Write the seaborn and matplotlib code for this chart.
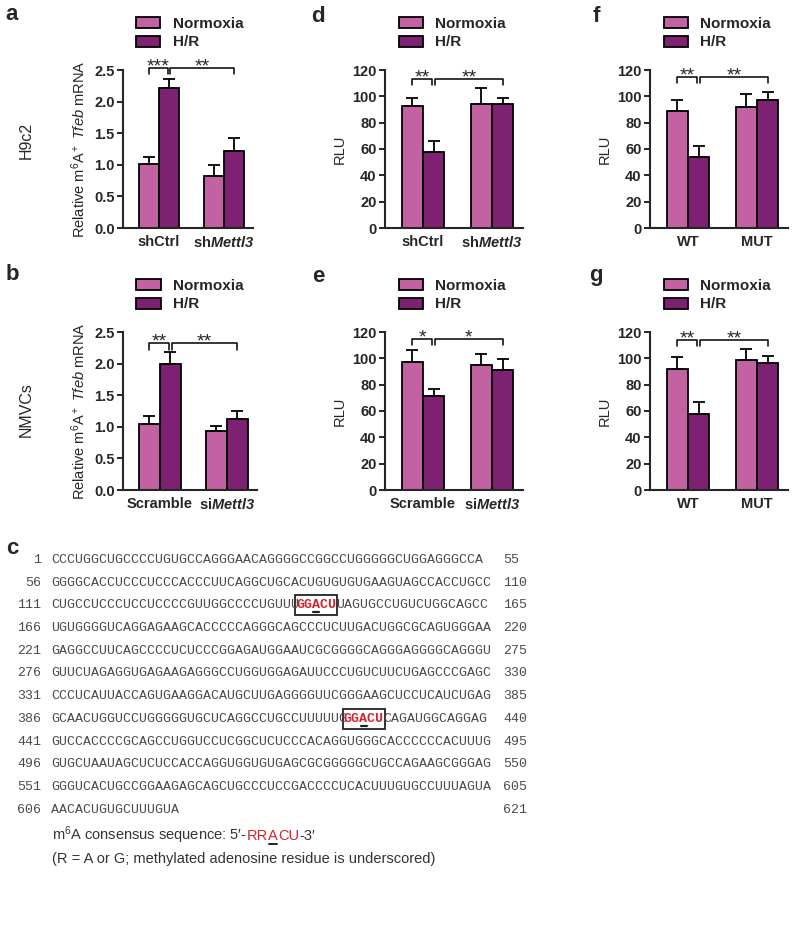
import numpy as np
import pandas as pd
import matplotlib
matplotlib.use("Agg")
import matplotlib.pyplot as plt
import seaborn as sns
from matplotlib.patches import Rectangle

sns.set_style("ticks")
plt.rcParams["font.family"] = ["Liberation Sans", "DejaVu Sans"]
plt.rcParams["mathtext.fontset"] = "custom"
plt.rcParams["mathtext.rm"] = "Liberation Sans"
plt.rcParams["mathtext.it"] = "Liberation Sans:italic"
plt.rcParams["mathtext.bf"] = "Liberation Sans:bold"
plt.rcParams["mathtext.bfit"] = "Liberation Sans:italic:bold"

conds = ["Normoxia", "H/R"]
pal = ["#C262A2", "#7E2172"]

sh_groups = ["shCtrl", "sh$\\mathbfit{Mettl3}$"]
si_groups = ["Scramble", "si$\\mathbfit{Mettl3}$"]
wt_groups = ["WT", "MUT"]

# panel a (H9c2, m6A IP)
a_norm = [1.02, 0.82]
a_norm_err = [0.10, 0.18]
a_hr = [2.22, 1.22]
a_hr_err = [0.14, 0.21]
# panel d (H9c2, luciferase)
d_norm = [93, 94]
d_norm_err = [6, 12]
d_hr = [58, 94]
d_hr_err = [8, 5]
# panel f (H9c2, WT/MUT)
f_norm = [89, 92]
f_norm_err = [8.5, 9.5]
f_hr = [54, 97.5]
f_hr_err = [8.5, 5.5]
# panel b (NMVCs, m6A IP)
b_norm = [1.04, 0.94]
b_norm_err = [0.13, 0.08]
b_hr = [1.99, 1.13]
b_hr_err = [0.20, 0.12]
# panel e (NMVCs, luciferase)
e_norm = [97, 95]
e_norm_err = [9.5, 8]
e_hr = [71.5, 91]
e_hr_err = [5, 8.5]
# panel g (NMVCs, WT/MUT)
g_norm = [92, 99]
g_norm_err = [9, 8]
g_hr = [57.5, 96.5]
g_hr_err = [9, 5]

seq_start = [1, 56, 111, 166, 221, 276, 331, 386, 441, 496, 551, 606]
seq_end = [55, 110, 165, 220, 275, 330, 385, 440, 495, 550, 605, 621]
seq_lines = [
    "CCCUGGCUGCCCCUGUGCCAGGGAACAGGGGCCGGCCUGGGGGCUGGAGGGCCA",
    "GGGGCACCUCCCUCCCACCCUUCAGGCUGCACUGUGUGUGAAGUAGCCACCUGCC",
    "CUGCCUCCCUCCUCCCCGUUGGCCCCUGUUUGGACUUAGUGCCUGUCUGGCAGCC",
    "UGUGGGGUCAGGAGAAGCACCCCCAGGGCAGCCCUCUUGACUGGCGCAGUGGGAA",
    "GAGGCCUUCAGCCCCUCUCCCGGAGAUGGAAUCGCGGGGCAGGGAGGGGCAGGGU",
    "GUUCUAGAGGUGAGAAGAGGGCCUGGUGGAGAUUCCCUGUCUUCUGAGCCCGAGC",
    "CCCUCAUUACCAGUGAAGGACAUGCUUGAGGGGUUCGGGAAGCUCCUCAUCUGAG",
    "GCAACUGGUCCUGGGGGUGCUCAGGCCUGCCUUUUUGGGACUCAGAUGGCAGGAG",
    "GUCCACCCCGCAGCCUGGUCCUCGGCUCUCCCACAGGUGGGCACCCCCCACUUUG",
    "GUGCUAAUAGCUCUCCACCAGGUGGUGUGAGCGCGGGGGCUGCCAGAAGCGGGAG",
    "GGGUCACUGCCGGAAGAGCAGCUGCCCUCCGACCCCUCACUUUGUGCCUUUAGUA",
    "AACACUGUGCUUUGUA",
]
# motif GGACU (0-based start index) on lines 111 and 386
motif_hits = {2: 31, 7: 37}

fig = plt.figure(figsize=(8, 9.49), dpi=100)
W, H = 800, 949

bg = fig.add_axes([0, 0, 1, 1])
bg.set_xlim(0, W)
bg.set_ylim(H, 0)
bg.axis("off")


def panel(box, groups, norm, norm_err, hr, hr_err, ytop, ystep, fmt, ylabel, stars, bh):
    x, y, w, h = box
    ax = fig.add_axes([x / W, 1 - (y + h) / H, w / W, h / H])
    df = pd.DataFrame({
        "group": groups * 2,
        "cond": [conds[0]] * 2 + [conds[1]] * 2,
        "value": norm + hr,
    })
    sns.barplot(data=df, x="group", y="value", hue="cond", order=groups,
                hue_order=conds, palette=pal, edgecolor="black", linewidth=1.3,
                width=0.62, errorbar=None, saturation=1, ax=ax)
    xs_n = [p.get_x() + p.get_width() / 2 for p in ax.containers[0]]
    xs_h = [p.get_x() + p.get_width() / 2 for p in ax.containers[1]]
    for xs, vals, errs in [(xs_n, norm, norm_err), (xs_h, hr, hr_err)]:
        ax.errorbar(xs, vals, yerr=[np.zeros(len(errs)), errs], fmt="none",
                    ecolor="black", elinewidth=1.3, capsize=4, capthick=1.3, zorder=1)
    ax.set_ylim(0, ytop)
    ax.set_xlim(-0.55, 1.45)
    ax.set_yticks(np.arange(0, ytop + ystep / 2, ystep))
    ax.set_yticklabels([fmt.format(v) for v in np.arange(0, ytop + ystep / 2, ystep)],
                       fontweight="bold", fontsize=10.5)
    ax.set_xticks([0, 1])
    ax.set_xticklabels(groups, fontweight="bold", fontsize=10.5)
    ax.tick_params(axis="x", length=0, pad=5)
    ax.tick_params(axis="y", length=4, width=1.4, direction="out", pad=2)
    ax.set_xlabel("")
    ax.set_ylabel(ylabel, fontsize=10.5, labelpad=4)
    for s in ["top", "right"]:
        ax.spines[s].set_visible(False)
    for s in ["left", "bottom"]:
        ax.spines[s].set_linewidth(1.5)

    handles, labels = ax.get_legend_handles_labels()
    ax.legend(handles, labels, loc="lower left", bbox_to_anchor=(0.1, 1.13),
              frameon=False, borderpad=0, borderaxespad=0, handlelength=1.6,
              handleheight=0.75, labelspacing=0.3, handletextpad=0.8,
              prop={"weight": "bold", "size": 11})

    dy = 0.04 * ytop
    x_mid = xs_h[0] + 0.02
    for (x0, x1), st in zip([(xs_n[0], xs_h[0] - 0.02), (x_mid, xs_h[1])], stars):
        ax.plot([x0, x0, x1, x1], [bh - dy, bh, bh, bh - dy], color="black",
                lw=1.1, clip_on=False)
        ax.annotate(st, xy=((x0 + x1) / 2, bh), xytext=(0, -2.5),
                    textcoords="offset points", ha="center", va="baseline",
                    fontsize=14, annotation_clip=False)
    return ax


m6a_label = "Relative m$^6$A$^+$ $\\it{Tfeb}$ mRNA"
panel((123, 70, 130, 158), sh_groups, a_norm, a_norm_err, a_hr, a_hr_err,
      2.5, 0.5, "{:.1f}", m6a_label, ["***", "**"], 2.53)
panel((385, 70, 138, 158), sh_groups, d_norm, d_norm_err, d_hr, d_hr_err,
      120, 20, "{:.0f}", "RLU", ["**", "**"], 113.5)
panel((650, 70, 138, 158), wt_groups, f_norm, f_norm_err, f_hr, f_hr_err,
      120, 20, "{:.0f}", "RLU", ["**", "**"], 115)
panel((123, 332, 134, 158), si_groups, b_norm, b_norm_err, b_hr, b_hr_err,
      2.5, 0.5, "{:.1f}", m6a_label, ["**", "**"], 2.32)
panel((385, 332, 138, 158), si_groups, e_norm, e_norm_err, e_hr, e_hr_err,
      120, 20, "{:.0f}", "RLU", ["*", "*"], 115)
panel((650, 332, 138, 158), wt_groups, g_norm, g_norm_err, g_hr, g_hr_err,
      120, 20, "{:.0f}", "RLU", ["**", "**"], 114)

# panel letters and row labels
for lab, px, py in [("a", 12, 14), ("d", 318, 16), ("f", 596, 16),
                    ("b", 12, 274), ("e", 318, 276), ("g", 596, 276), ("c", 12, 548)]:
    bg.text(px, py, lab, fontsize=16, fontweight="bold", ha="center", va="center")
bg.text(26, 140, "H9c2", rotation=90, fontsize=11.5, ha="center", va="center")
bg.text(26, 410, "NMVCs", rotation=90, fontsize=11.5, ha="center", va="center")

# sequence panel
gray = "#4a4a4a"
red = "#D2232A"
fs_seq = 9.5
cw = 0.6 * fs_seq * 100 / 72
x_seq = 51
y0 = 560
dy_line = 22.7
for i, (s0, s1, line) in enumerate(zip(seq_start, seq_end, seq_lines)):
    yy = y0 + i * dy_line
    bg.text(41, yy, str(s0), family="Liberation Mono", fontsize=fs_seq,
            color=gray, ha="right", va="center")
    bg.text(503, yy, str(s1), family="Liberation Mono", fontsize=fs_seq,
            color=gray, ha="left", va="center")
    if i in motif_hits:
        k = motif_hits[i]
        pre, mot, post = line[:k], line[k:k + 5], line[k + 5:]
        bg.text(x_seq, yy, pre, family="Liberation Mono", fontsize=fs_seq,
                color=gray, ha="left", va="center")
        bg.text(x_seq + k * cw, yy, mot, family="Liberation Mono", fontsize=fs_seq,
                color=red, fontweight="bold", ha="left", va="center")
        bg.text(x_seq + (k + 5) * cw, yy, post, family="Liberation Mono",
                fontsize=fs_seq, color=gray, ha="left", va="center")
        bg.add_patch(Rectangle((x_seq + k * cw - 1, yy - 10), 5 * cw + 2, 20,
                               fill=False, edgecolor="#222222", lw=1.3))
        ua = x_seq + (k + 2) * cw
        bg.plot([ua + 1, ua + cw - 1], [yy + 7, yy + 7], color="#222222", lw=1.6)
    else:
        bg.text(x_seq, yy, line, family="Liberation Mono", fontsize=fs_seq,
                color=gray, ha="left", va="center")

# consensus note
renderer = fig.canvas.get_renderer()
inv = bg.transData.inverted()


def put_runs(x, y, runs):
    spans = []
    for s, col in runs:
        t = bg.text(x, y, s, fontsize=10.5, color=col, ha="left", va="baseline")
        bb = t.get_window_extent(renderer)
        x1 = inv.transform((bb.x1, bb.y0))[0]
        spans.append((x, x1))
        x = x1
    return spans


yn = 840
sp = put_runs(52, yn, [("m$^6$A consensus sequence: 5\u2032-", "#333333"),
                       ("RR", red), ("A", red), ("CU", red), ("-3\u2032", "#333333")])
ax0, ax1 = sp[2]
bg.plot([ax0 + 0.5, ax1 - 0.5], [yn + 4, yn + 4], color="#222222", lw=1.4)
bg.text(52, yn + 23, "(R = A or G; methylated adenosine residue is underscored)",
        fontsize=10.5, color="#333333", ha="left", va="baseline")

fig.savefig("out.png", dpi=100)
